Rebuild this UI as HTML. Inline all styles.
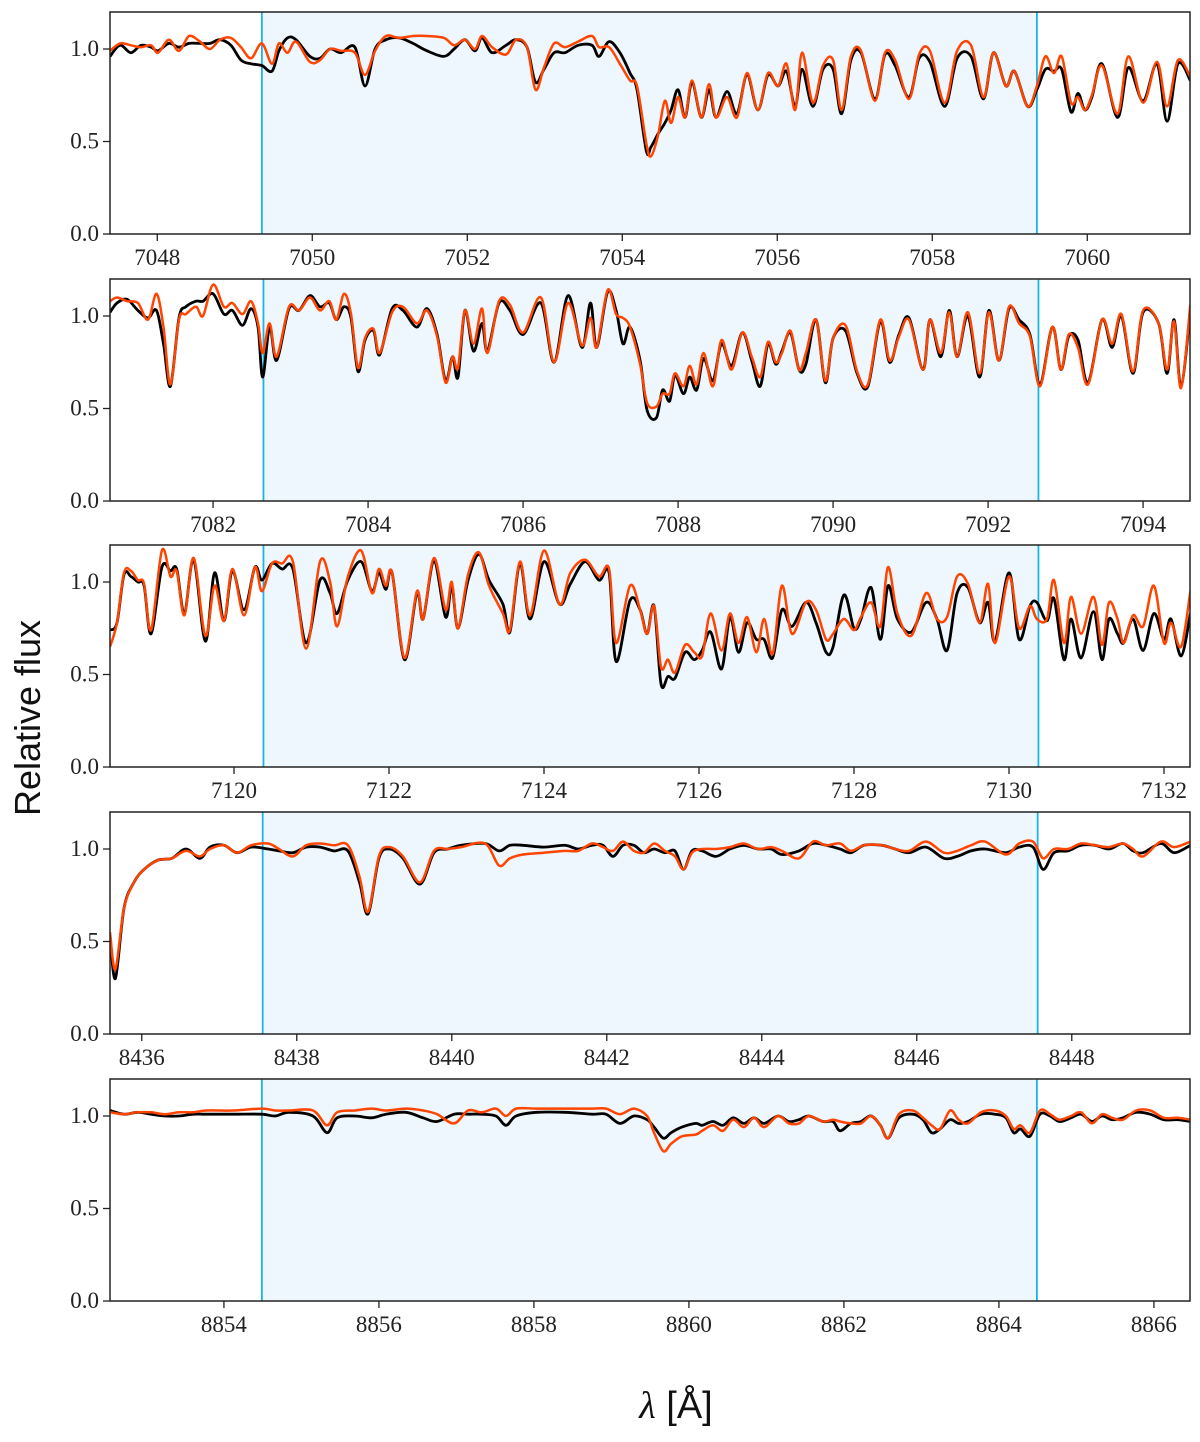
<!DOCTYPE html>
<html><head><meta charset="utf-8">
<style>
html,body{margin:0;padding:0;background:#fff;}
svg{display:block;}
.tick{font-family:"Liberation Serif",serif;font-size:23px;fill:#222;}
</style></head>
<body>
<svg id="fig" width="1200" height="1442" xmlns="http://www.w3.org/2000/svg">
<text x="40" y="718" transform="rotate(-90 40 718)" text-anchor="middle" font-family="Liberation Sans, sans-serif" font-size="36" fill="#111">Relative flux</text>
<text x="676" y="1418" text-anchor="middle" font-family="Liberation Sans, sans-serif" font-size="38" fill="#111"><tspan font-style="italic" font-family="Liberation Serif, serif">λ</tspan> [Å]</text>
</svg>
<script>
// ---------- data ----------
const panelStarts = [7047.39, 7080.67, 7118.40, 8435.59, 8852.53];
const bandStarts = [7049.35, 7082.65, 7120.38, 8437.56, 8854.49];
const bandWidth = 10;
const xTicks1 = [7048,7050,7052,7054,7056,7058,7060];
const xTicks2 = [7082,7084,7086,7088,7090,7092,7094];
const xTicks3 = [7120,7122,7124,7126,7128,7130,7132];
const xTicks4 = [8436,8438,8440,8442,8444,8446,8448];
const xTicks5 = [8854,8856,8858,8860,8862,8864,8866];
const yTicks = [0.0, 0.5, 1.0];
const yTickLabels = ["0.0","0.5","1.0"];

const wl1 = [7047.39,7047.52,7047.66,7047.79,7047.92,7048.01,7048.15,7048.28,7048.41,7048.55,7048.68,7048.81,7048.95,7049.08,7049.21,7049.35,7049.48,7049.57,7049.68,7049.79,7049.97,7050.10,7050.23,7050.37,7050.55,7050.68,7050.81,7050.95,7051.12,7051.30,7051.48,7051.70,7051.83,7051.97,7052.10,7052.19,7052.32,7052.50,7052.63,7052.77,7052.88,7052.99,7053.12,7053.26,7053.43,7053.61,7053.70,7053.83,7053.97,7054.10,7054.19,7054.31,7054.37,7054.46,7054.55,7054.63,7054.72,7054.81,7054.90,7055.02,7055.12,7055.21,7055.35,7055.48,7055.61,7055.75,7055.88,7056.01,7056.12,7056.23,7056.32,7056.46,7056.59,7056.72,7056.83,7056.95,7057.08,7057.26,7057.39,7057.52,7057.70,7057.83,7057.97,7058.16,7058.32,7058.50,7058.66,7058.79,7058.95,7059.06,7059.23,7059.35,7059.46,7059.57,7059.67,7059.79,7059.88,7059.97,7060.06,7060.19,7060.39,7060.53,7060.72,7060.90,7061.03,7061.17,7061.33];
const obs1 = [0.96,1.02,0.98,1.02,1.01,0.99,1.03,1.01,1.03,1.03,1.03,1.05,1.02,0.94,0.92,0.91,0.88,0.99,1.06,1.05,0.96,0.95,1.00,0.98,1.01,0.80,1.00,1.05,1.06,1.03,0.99,0.96,1.00,1.05,0.99,1.06,0.98,1.02,1.05,1.01,0.82,0.89,0.98,0.98,1.02,1.02,0.96,1.04,0.98,0.87,0.78,0.45,0.47,0.54,0.60,0.67,0.78,0.63,0.82,0.63,0.78,0.63,0.77,0.65,0.86,0.67,0.86,0.80,0.88,0.69,0.89,0.69,0.89,0.89,0.65,0.94,0.98,0.73,0.97,0.91,0.74,0.95,0.93,0.69,0.95,0.96,0.73,0.98,0.80,0.88,0.69,0.78,0.89,0.88,0.89,0.66,0.76,0.67,0.74,0.92,0.63,0.90,0.72,0.92,0.61,0.92,0.83];
const mod1 = [0.99,1.03,1.02,1.01,1.02,0.98,1.05,0.99,1.07,1.04,1.00,1.05,1.06,1.01,0.95,1.03,0.92,1.03,0.98,1.04,0.93,0.94,1.00,0.99,0.98,0.86,0.99,1.07,1.06,1.07,1.07,1.06,1.02,1.05,1.00,1.07,1.01,0.97,1.05,1.01,0.78,0.90,1.03,1.01,1.04,1.07,1.01,1.01,0.92,0.83,0.80,0.49,0.42,0.53,0.72,0.60,0.74,0.63,0.83,0.63,0.81,0.63,0.74,0.63,0.87,0.67,0.87,0.80,0.92,0.67,0.98,0.71,0.91,0.94,0.67,0.96,0.99,0.72,0.98,0.94,0.73,0.97,0.99,0.71,0.99,1.02,0.74,0.98,0.80,0.88,0.69,0.80,0.96,0.87,0.96,0.71,0.74,0.67,0.75,0.91,0.65,0.96,0.71,0.93,0.69,0.94,0.85];

const wl2 = [7080.67,7080.76,7080.89,7081.03,7081.16,7081.27,7081.36,7081.45,7081.56,7081.65,7081.78,7081.87,7082.00,7082.14,7082.25,7082.38,7082.49,7082.58,7082.64,7082.73,7082.82,7082.98,7083.11,7083.25,7083.38,7083.50,7083.59,7083.69,7083.78,7083.87,7083.96,7084.07,7084.15,7084.31,7084.45,7084.63,7084.76,7084.89,7085.00,7085.09,7085.16,7085.25,7085.36,7085.47,7085.54,7085.69,7085.83,7086.00,7086.23,7086.40,7086.58,7086.76,7086.87,7086.95,7087.09,7087.20,7087.29,7087.38,7087.51,7087.60,7087.72,7087.80,7087.89,7087.96,7088.07,7088.15,7088.24,7088.33,7088.45,7088.56,7088.69,7088.83,7088.95,7089.06,7089.16,7089.26,7089.34,7089.45,7089.56,7089.65,7089.78,7089.90,7090.00,7090.16,7090.31,7090.45,7090.61,7090.73,7090.85,7090.98,7091.16,7091.25,7091.39,7091.50,7091.60,7091.74,7091.89,7092.01,7092.14,7092.27,7092.40,7092.54,7092.67,7092.83,7092.94,7093.04,7093.16,7093.29,7093.47,7093.60,7093.72,7093.87,7094.00,7094.20,7094.31,7094.40,7094.49,7094.61];
const obs2 = [1.02,1.07,1.09,1.03,0.99,1.03,0.85,0.62,0.99,1.05,1.08,1.08,1.12,1.01,1.03,0.95,1.04,0.94,0.67,0.94,0.76,1.04,1.03,1.11,1.05,1.07,0.98,1.05,0.99,0.70,0.87,0.92,0.79,1.04,1.03,0.94,1.04,0.90,0.65,0.78,0.67,1.03,0.81,0.96,0.81,1.07,1.03,0.90,1.07,0.75,1.11,0.83,1.07,0.83,1.13,1.03,0.85,0.94,0.76,0.49,0.45,0.60,0.54,0.68,0.58,0.67,0.60,0.77,0.65,0.85,0.73,0.91,0.76,0.62,0.85,0.74,0.81,0.91,0.71,0.74,0.98,0.64,0.88,0.92,0.69,0.62,0.97,0.75,0.90,0.99,0.71,0.98,0.78,1.03,0.78,1.00,0.67,1.03,0.76,1.04,0.98,0.90,0.63,0.94,0.71,0.89,0.87,0.64,0.98,0.83,1.00,0.69,1.02,0.96,0.69,0.98,0.62,1.03];
const mod2 = [1.08,1.10,1.08,1.07,0.98,1.12,0.94,0.63,0.98,1.01,1.05,1.00,1.17,1.05,1.07,1.01,1.08,0.96,0.80,0.96,0.78,1.05,1.03,1.10,1.03,1.08,0.98,1.12,1.01,0.72,0.88,0.93,0.80,1.02,1.05,0.96,1.03,0.89,0.64,0.78,0.72,1.03,0.85,1.04,0.80,1.08,1.06,0.91,1.10,0.75,1.07,0.84,0.99,0.83,1.14,1.01,0.99,0.94,0.74,0.53,0.51,0.58,0.58,0.69,0.62,0.73,0.63,0.80,0.62,0.87,0.71,0.91,0.78,0.67,0.86,0.75,0.80,0.92,0.71,0.80,0.98,0.65,0.88,0.95,0.70,0.63,0.98,0.76,0.89,0.98,0.71,0.98,0.80,1.02,0.78,1.02,0.69,1.02,0.76,1.05,0.96,0.89,0.62,0.94,0.71,0.90,0.83,0.63,0.98,0.85,1.01,0.70,1.03,0.96,0.71,0.97,0.61,1.06];

const wl3 = [7118.40,7118.49,7118.58,7118.67,7118.76,7118.84,7118.93,7119.07,7119.18,7119.26,7119.36,7119.48,7119.63,7119.75,7119.87,7119.98,7120.13,7120.27,7120.36,7120.49,7120.62,7120.76,7120.93,7121.11,7121.24,7121.33,7121.47,7121.64,7121.78,7121.87,7121.96,7122.04,7122.20,7122.36,7122.44,7122.58,7122.73,7122.81,7122.89,7123.02,7123.16,7123.29,7123.47,7123.56,7123.69,7123.82,7124.00,7124.20,7124.34,7124.53,7124.71,7124.84,7124.93,7125.11,7125.24,7125.33,7125.42,7125.51,7125.60,7125.69,7125.82,7125.94,7126.04,7126.15,7126.29,7126.40,7126.51,7126.62,7126.74,7126.84,7126.95,7127.07,7127.20,7127.38,7127.51,7127.64,7127.73,7127.87,7128.00,7128.09,7128.22,7128.34,7128.44,7128.56,7128.74,7128.93,7129.07,7129.20,7129.33,7129.47,7129.62,7129.73,7129.82,7130.00,7130.13,7130.27,7130.36,7130.49,7130.58,7130.71,7130.80,7130.93,7131.09,7131.20,7131.29,7131.40,7131.48,7131.60,7131.73,7131.87,7132.00,7132.09,7132.22,7132.34];
const obs3 = [0.74,0.78,1.04,1.03,1.00,0.98,0.72,1.08,1.06,1.07,0.83,1.12,0.68,1.05,0.79,1.06,0.85,1.08,1.01,1.10,1.07,1.07,0.67,1.01,0.94,0.83,1.01,1.11,0.95,1.05,0.96,1.05,0.58,0.94,0.80,1.11,0.81,0.98,0.75,1.01,1.15,1.01,0.88,0.73,1.10,0.80,1.11,0.88,0.99,1.11,1.01,1.05,0.57,0.90,0.85,0.72,0.87,0.45,0.49,0.48,0.62,0.58,0.63,0.73,0.53,0.81,0.62,0.78,0.69,0.69,0.59,0.85,0.76,0.89,0.78,0.62,0.65,0.93,0.75,0.80,0.97,0.69,0.98,0.80,0.73,0.89,0.80,0.63,0.94,0.97,0.78,0.89,0.68,1.05,0.69,0.87,0.89,0.79,0.91,0.58,0.80,0.59,0.84,0.58,0.80,0.72,0.67,0.80,0.63,0.83,0.69,0.80,0.60,0.83];
const mod3 = [0.65,0.78,1.05,1.06,1.01,0.99,0.74,1.17,1.03,1.06,0.82,1.13,0.71,0.98,0.79,1.07,0.82,1.08,0.95,1.10,1.10,1.11,0.64,1.11,1.00,0.76,1.03,1.17,0.94,1.07,0.98,1.05,0.59,0.95,0.80,1.13,0.85,1.00,0.75,1.04,1.16,0.98,0.83,0.74,1.11,0.82,1.17,0.88,1.05,1.12,1.03,1.07,0.67,0.98,0.85,0.72,0.87,0.54,0.58,0.51,0.66,0.62,0.60,0.83,0.63,0.83,0.67,0.81,0.62,0.80,0.61,0.98,0.72,0.89,0.85,0.69,0.72,0.80,0.74,0.81,0.89,0.76,1.08,0.83,0.71,0.94,0.80,0.81,1.03,0.99,0.78,0.99,0.67,1.03,0.75,0.87,0.80,0.80,1.01,0.67,0.92,0.72,0.92,0.66,0.89,0.80,0.67,0.82,0.76,0.98,0.67,0.78,0.65,0.95];

const wl4 = [8435.59,8435.66,8435.77,8435.90,8436.03,8436.21,8436.39,8436.57,8436.75,8436.88,8437.06,8437.23,8437.41,8437.63,8437.77,8437.95,8438.12,8438.30,8438.48,8438.66,8438.81,8438.92,8439.06,8439.19,8439.37,8439.59,8439.77,8439.95,8440.12,8440.43,8440.61,8440.75,8440.92,8441.19,8441.46,8441.63,8441.81,8441.95,8442.08,8442.21,8442.35,8442.48,8442.61,8442.75,8442.88,8442.99,8443.10,8443.23,8443.41,8443.59,8443.77,8443.95,8444.12,8444.26,8444.48,8444.66,8444.83,8445.01,8445.15,8445.32,8445.55,8445.72,8445.90,8446.12,8446.35,8446.52,8446.70,8446.88,8447.15,8447.32,8447.50,8447.63,8447.77,8447.95,8448.12,8448.30,8448.48,8448.66,8448.79,8448.92,8449.15,8449.32,8449.53];
const obs4 = [0.53,0.30,0.68,0.82,0.89,0.94,0.95,1.00,0.95,1.01,1.02,0.98,1.01,1.00,0.99,0.98,1.01,1.01,0.99,0.99,0.82,0.65,0.95,1.00,0.95,0.81,0.98,1.00,1.02,1.03,0.99,1.02,1.02,1.01,1.02,1.00,1.02,1.02,0.96,1.02,1.02,0.98,1.00,0.98,0.99,0.89,0.99,0.99,0.96,1.00,1.02,1.00,1.00,0.97,0.99,1.03,1.02,1.00,0.98,1.02,1.02,1.00,0.98,1.01,0.95,0.96,0.99,1.00,0.98,1.01,1.01,0.89,0.98,0.99,1.02,1.02,1.00,1.03,0.99,0.98,1.03,0.98,1.02];
const mod4 = [0.55,0.35,0.68,0.82,0.89,0.94,0.95,0.99,0.96,1.00,1.02,0.98,1.02,1.03,1.00,0.96,1.02,1.03,1.02,1.02,0.85,0.66,0.96,1.01,0.96,0.82,0.99,1.00,1.01,1.03,0.91,0.95,0.97,0.98,0.99,0.99,1.03,1.01,0.99,1.04,0.99,0.98,1.03,0.99,0.96,0.89,0.98,1.00,1.00,1.01,1.03,1.00,1.01,0.99,0.95,1.04,1.02,1.03,0.99,1.02,1.02,1.00,0.99,1.04,0.98,0.99,1.02,1.04,0.97,1.03,1.04,0.95,1.00,1.00,1.03,1.02,1.01,1.03,1.00,0.96,1.04,1.01,1.04];

const wl5 = [8852.53,8852.71,8852.89,8853.06,8853.24,8853.42,8853.60,8853.77,8854.13,8854.49,8854.66,8854.84,8855.15,8855.33,8855.46,8855.69,8855.91,8856.09,8856.35,8856.57,8856.75,8856.97,8857.15,8857.33,8857.51,8857.64,8857.77,8858.04,8858.40,8858.75,8858.93,8859.11,8859.29,8859.46,8859.55,8859.67,8859.77,8859.91,8860.09,8860.17,8860.31,8860.44,8860.57,8860.71,8860.84,8860.97,8861.15,8861.29,8861.42,8861.55,8861.73,8861.86,8861.95,8862.09,8862.22,8862.35,8862.47,8862.57,8862.71,8862.89,8863.02,8863.13,8863.24,8863.37,8863.48,8863.60,8863.77,8863.95,8864.09,8864.19,8864.28,8864.40,8864.53,8864.66,8864.78,8864.93,8865.06,8865.20,8865.33,8865.46,8865.60,8865.77,8865.95,8866.13,8866.31,8866.47];
const obs5 = [1.03,1.01,1.02,1.01,1.00,1.00,1.01,1.01,1.01,1.01,1.00,1.02,1.00,0.91,0.99,1.00,0.99,1.01,1.02,0.99,0.97,1.01,1.01,1.01,1.00,0.95,1.00,1.02,1.02,1.01,1.01,0.96,1.00,0.98,0.94,0.88,0.91,0.94,0.96,0.95,0.97,0.95,0.99,0.96,0.99,0.96,1.00,0.97,0.98,1.00,0.97,0.97,0.92,0.96,0.97,1.00,0.95,0.88,0.99,1.01,0.98,0.91,0.93,0.98,0.96,0.97,1.01,1.01,0.99,0.91,0.93,0.89,1.01,1.00,0.97,0.99,1.01,0.97,1.00,0.98,0.99,1.02,1.01,0.98,0.98,0.97];
const mod5 = [1.02,1.01,1.02,1.02,1.01,1.02,1.02,1.03,1.03,1.04,1.03,1.03,1.03,0.95,1.02,1.03,1.04,1.03,1.04,1.03,1.01,0.96,1.03,1.02,1.04,1.00,1.04,1.04,1.04,1.04,1.04,1.01,1.04,1.00,0.91,0.81,0.85,0.89,0.90,0.92,0.95,0.92,0.98,0.94,0.99,0.94,1.00,0.96,0.96,1.00,0.97,0.98,0.97,0.96,0.96,1.00,0.95,0.88,1.01,1.03,0.99,0.95,0.93,1.03,0.98,0.96,1.02,1.03,1.00,0.93,0.95,0.91,1.03,1.01,0.98,1.00,1.02,0.96,1.01,0.99,0.98,1.03,1.03,0.99,0.99,0.98];

const panelWl = [wl1, wl2, wl3, wl4, wl5];
const panelObs = [obs1, obs2, obs3, obs4, obs5];
const panelMod = [mod1, mod2, mod3, mod4, mod5];
const panelTicks = [xTicks1, xTicks2, xTicks3, xTicks4, xTicks5];

// ---------- layout ----------
const NS = "http://www.w3.org/2000/svg";
const svg = document.getElementById('fig');
const X0 = 110, X1 = 1190, PXPA = 77.5;
const tops = [12, 279, 545, 812, 1079];
const PH = 222, YMAX = 1.2;

function mk(tag, attrs, parent){
  const e = document.createElementNS(NS, tag);
  for (const k in attrs) e.setAttribute(k, attrs[k]);
  (parent||svg).appendChild(e);
  return e;
}
function smoothPath(pts){
  let d = "M" + pts[0][0].toFixed(1) + "," + pts[0][1].toFixed(1);
  for (let i = 0; i < pts.length - 1; i++){
    const p0 = pts[i-1] || pts[i], p1 = pts[i], p2 = pts[i+1], p3 = pts[i+2] || p2;
    const c1x = p1[0] + (p2[0]-p0[0])/6, c1y = p1[1] + (p2[1]-p0[1])/6;
    const c2x = p2[0] - (p3[0]-p1[0])/6, c2y = p2[1] - (p3[1]-p1[1])/6;
    d += "C" + c1x.toFixed(1) + "," + c1y.toFixed(1) + " " + c2x.toFixed(1) + "," + c2y.toFixed(1) + " " + p2[0].toFixed(1) + "," + p2[1].toFixed(1);
  }
  return d;
}

const defs = mk('defs', {});
for (let p = 0; p < 5; p++){
  const top = tops[p], bot = top + PH;
  const x = v => X0 + (v - panelStarts[p]) * PXPA;
  const y = v => bot - v / YMAX * PH;
  const g = mk('g', {});
  
  

  const cp = mk('clipPath', {id: 'clip' + p}, defs);
  mk('rect', {x: X0, y: top, width: X1 - X0, height: PH}, cp);

  const band = mk('rect', {x: x(bandStarts[p]), y: top, width: bandWidth * PXPA, height: PH, fill: '#eef6fe'}, g);
  
  
  [bandStarts[p], bandStarts[p] + bandWidth].forEach(b => {
    const l = mk('line', {x1: x(b), x2: x(b), y1: top, y2: bot, stroke: '#1cb4e8', 'stroke-width': 1.8}, g);
    
    
  });

  const lines = mk('g', {'clip-path': 'url(#clip' + p + ')'}, g);
  const wl = panelWl[p];
  const ob = mk('path', {d: smoothPath(wl.map((w,i) => [x(w), y(panelObs[p][i])])), fill: 'none', stroke: '#000', 'stroke-width': 2.8, 'stroke-linejoin': 'round'}, lines);
  
  
  const md = mk('path', {d: smoothPath(wl.map((w,i) => [x(w), y(panelMod[p][i])])), fill: 'none', stroke: '#ff4500', 'stroke-width': 2.5, 'stroke-linejoin': 'round'}, lines);
  
  

  const fr = mk('rect', {x: X0, y: top, width: X1 - X0, height: PH, fill: 'none', stroke: '#222', 'stroke-width': 1.5}, g);
  
  

  yTicks.forEach((t, i) => {
    mk('line', {x1: X0 - 7, x2: X0, y1: y(t), y2: y(t), stroke: '#222', 'stroke-width': 1.3}, g);
    const tx = mk('text', {x: X0 - 11, y: y(t) + 7, 'text-anchor': 'end', class: 'tick'}, g);
    
    
    tx.textContent = yTickLabels[i];
  });
  panelTicks[p].forEach(t => {
    const xx = x(t);
    if (xx < X0 - 1 || xx > X1 + 1) return;
    mk('line', {x1: xx, x2: xx, y1: bot, y2: bot + 7, stroke: '#222', 'stroke-width': 1.3}, g);
    const tx = mk('text', {x: xx, y: bot + 31, 'text-anchor': 'middle', class: 'tick'}, g);
    
    
    tx.textContent = t;
  });
}
</script>
</body></html>
